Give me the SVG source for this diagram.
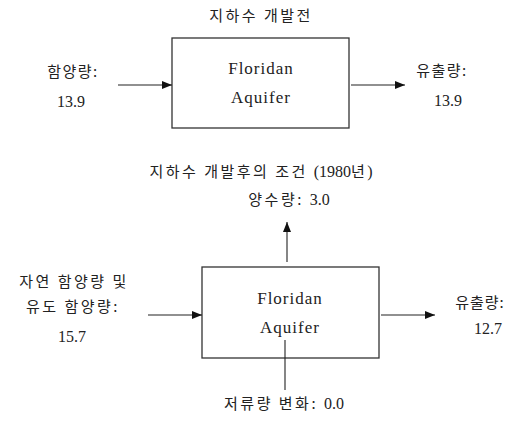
<svg xmlns="http://www.w3.org/2000/svg" width="509" height="423" viewBox="0 0 509 423">
<style>
.t{font-family:"Liberation Serif","Noto Sans CJK KR",serif;font-size:16px;fill:#222;text-anchor:middle}
.k{font-family:"Noto Sans CJK KR","Liberation Serif",sans-serif;font-size:15px;fill:#222;text-anchor:middle;letter-spacing:2.5px}
.n{font-family:"Liberation Serif",serif;font-size:16px;letter-spacing:0}
.box{fill:#fff;stroke:#333;stroke-width:1.3}
.ln{stroke:#222;stroke-width:1.1;fill:none}
</style>
<defs>
<marker id="ah" viewBox="0 0 10 8" refX="10" refY="4" markerWidth="10" markerHeight="8" markerUnits="userSpaceOnUse" orient="auto">
<path d="M0,0 L10,4 L0,8 Z" fill="#111"/>
</marker>
</defs>
<rect width="509" height="423" fill="#fff"/>
<text class="k" x="261" y="21">지하수 개발전</text>
<g id="aquifer1">
<rect class="box" x="172" y="38" width="177" height="90"/>
<text class="t" x="261" y="74" style="font-size:17px;letter-spacing:1px">Floridan</text>
<text class="t" x="261" y="103" style="font-size:17px;letter-spacing:1px">Aquifer</text>
</g>
<g id="in1"><text class="k" x="73" y="77" style="letter-spacing:1.5px">함양량:</text><text class="t" x="71" y="107">13.9</text></g>
<g id="out1"><text class="k" x="442" y="76" style="letter-spacing:1.5px">유출량:</text><text class="t" x="448" y="106">13.9</text></g>
<text class="k" x="261" y="177">지하수 개발후의 조건 <tspan class="n">(1980</tspan>년<tspan class="n">)</tspan></text>
<g id="pump"><text class="k" x="289" y="205">양수량: <tspan class="n">3.0</tspan></text></g>
<g id="aquifer2">
<rect class="box" x="202" y="267" width="177" height="91"/>
<text class="t" x="290" y="304" style="font-size:17px;letter-spacing:1px">Floridan</text>
<text class="t" x="290" y="333" style="font-size:17px;letter-spacing:1px">Aquifer</text>
</g>
<g id="in2"><text class="k" x="74" y="287">자연 함양량 및</text><text class="k" x="73" y="312">유도 함양량:</text><text class="t" x="72" y="342">15.7</text></g>
<g id="out2"><text class="k" x="480" y="308" style="letter-spacing:1px">유출량:</text><text class="t" x="488" y="334">12.7</text></g>
<g id="storage"><text class="k" x="284" y="409">저류량 변화: <tspan class="n">0.0</tspan></text></g>
<g id="connectors">
<line class="ln" x1="118" y1="85" x2="172" y2="85" marker-end="url(#ah)"/>
<line class="ln" x1="351" y1="85" x2="405" y2="85" marker-end="url(#ah)"/>
<line class="ln" x1="148" y1="315" x2="202" y2="315" marker-end="url(#ah)"/>
<line class="ln" x1="381" y1="315" x2="435" y2="315" marker-end="url(#ah)"/>
<line class="ln" x1="287" y1="262" x2="287" y2="222" marker-end="url(#ah)"/>
<line class="ln" x1="285" y1="340" x2="285" y2="390"/>
</g>
</svg>
